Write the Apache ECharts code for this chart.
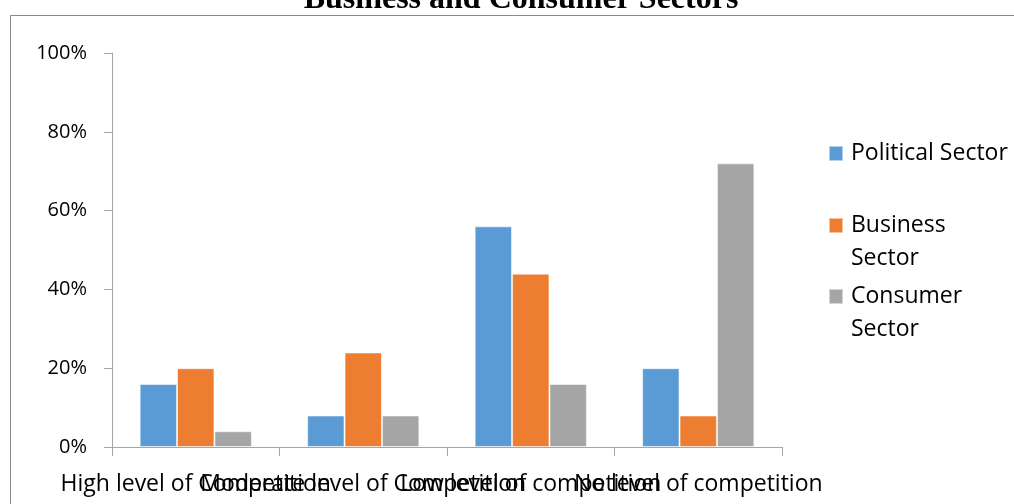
<!DOCTYPE html>
<html>
<head>
<meta charset="utf-8">
<title>Business and Consumer Sectors</title>
<script src="https://cdn.jsdelivr.net/npm/echarts@6/dist/echarts.min.js"></script>
<style>
  html, body { margin: 0; padding: 0; background: #ffffff; }
  #chart { width: 1014px; height: 504px; }
</style>
</head>
<body>
<div id="chart"></div>
<script>
// Level of competition per sector, in percent
const categories = [
  'High level of Competition',
  'Moderate level of Competition',
  'Low level of competition',
  'No level of competition'
];
const seriesNames = ['Political Sector', 'Business Sector', 'Consumer Sector'];
const politicalSector = [16, 8, 56, 20];
const businessSector = [20, 24, 44, 8];
const consumerSector = [4, 8, 16, 72];
const yTicks = [0, 20, 40, 60, 80, 100];

const colors = ['#5B9BD5', '#ED7D31', '#A5A5A5'];
const labelFont = '"Open Sans", "Noto Sans", sans-serif';

const chart = echarts.init(document.getElementById('chart'), null, { renderer: 'canvas' });

function makeSeries(name, values, color) {
  return {
    name: name,
    type: 'bar',
    data: values,
    barGap: '0%',
    barCategoryGap: '33%',
    itemStyle: { color: color, borderColor: 'rgba(255,255,255,0.55)', borderWidth: 1 },
    emphasis: { disabled: true }
  };
}

// One legend block per entry; wrapped names get an empty leading line so the
// swatch stays level with their first line of text
function legendBlock(name, top, twoLine) {
  return {
    data: [name],
    orient: 'vertical',
    left: 828,
    top: top,
    padding: 0,
    itemWidth: 14,
    itemHeight: 15,
    icon: 'rect',
    selectedMode: false,
    formatter: function (n) {
      return twoLine ? '{t| }\n{t|' + n.replace(' ', '}\n{t|') + '}' : '{t|' + n + '}';
    },
    textStyle: {
      fontFamily: labelFont,
      fontSize: 23,
      color: '#000',
      rich: {
        t: { fontFamily: labelFont, fontSize: 23, color: '#000', lineHeight: 33, padding: [0, 0, 0, 3] }
      }
    }
  };
}

const option = {
  animation: false,
  backgroundColor: '#ffffff',
  color: colors,
  graphic: [
    {
      type: 'rect',
      silent: true,
      shape: { x: 10.5, y: 15.5, width: 1200, height: 700 },
      style: { fill: 'none', stroke: '#8a8a8a', lineWidth: 1 }
    },
    {
      type: 'text',
      silent: true,
      x: 521,
      y: 16,
      style: {
        text: 'Business and Consumer Sectors',
        font: 'bold 32px "Liberation Serif", "Times New Roman", serif',
        fill: '#000',
        align: 'center',
        verticalAlign: 'bottom'
      }
    }
  ],
  legend: [
    legendBlock(seriesNames[0], 142, false),
    legendBlock(seriesNames[1], 181, true),
    legendBlock(seriesNames[2], 252, true)
  ],
  grid: { left: 112, right: 232, top: 53, bottom: 57, containLabel: false },
  xAxis: {
    type: 'category',
    data: categories,
    axisLine: { show: true, lineStyle: { color: '#a6a6a6', width: 1 } },
    axisTick: { show: true, length: 9, lineStyle: { color: '#a6a6a6' } },
    axisLabel: {
      interval: 0,
      margin: 26,
      fontFamily: labelFont,
      fontSize: 23,
      color: '#000',
      hideOverlap: false
    },
    splitLine: { show: false }
  },
  yAxis: {
    type: 'value',
    min: yTicks[0],
    max: yTicks[yTicks.length - 1],
    interval: yTicks[1] - yTicks[0],
    axisLine: { show: true, lineStyle: { color: '#a6a6a6', width: 1 } },
    axisTick: { show: true, length: 8, lineStyle: { color: '#a6a6a6' } },
    axisLabel: {
      margin: 25,
      formatter: '{value}%',
      fontFamily: labelFont,
      fontSize: 20,
      color: '#000'
    },
    splitLine: { show: false }
  },
  series: [
    makeSeries(seriesNames[0], politicalSector, colors[0]),
    makeSeries(seriesNames[1], businessSector, colors[1]),
    makeSeries(seriesNames[2], consumerSector, colors[2])
  ]
};

chart.setOption(option);
</script>
</body>
</html>
